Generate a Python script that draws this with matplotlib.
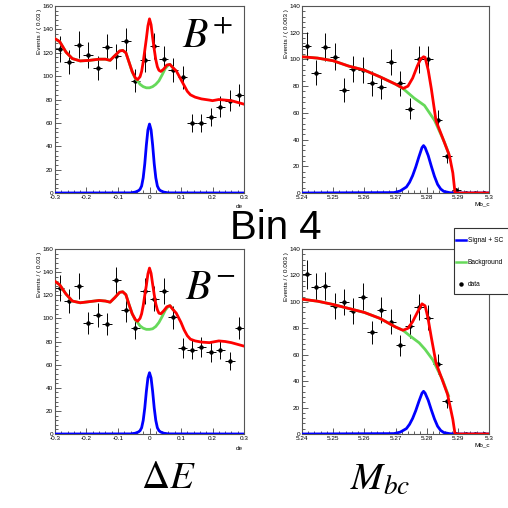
import numpy as np
import matplotlib.pyplot as plt
from matplotlib.patches import Rectangle
from matplotlib.lines import Line2D
from matplotlib.ticker import MultipleLocator

plt.rcParams['font.family'] = ['Liberation Sans', 'DejaVu Sans']
plt.rcParams['mathtext.fontset'] = 'stix'
plt.rcParams['axes.unicode_minus'] = False

# ---------------- data ----------------
de_centers = [-0.285, -0.255, -0.225, -0.195, -0.165, -0.135, -0.105, -0.075, -0.045, -0.015,
              0.015, 0.045, 0.075, 0.105, 0.135, 0.165, 0.195, 0.225, 0.255, 0.285]
mbc_centers = [5.2415, 5.2445, 5.2475, 5.2505, 5.2535, 5.2565, 5.2595, 5.2625, 5.2655, 5.2685,
               5.2715, 5.2745, 5.2775, 5.2805, 5.2835, 5.2865, 5.2895, 5.2925, 5.2955, 5.2985]

de_bplus_counts = [123, 112, 127, 118, 107, 125, 117, 130, 96, 114,
                   126, 115, 105, 99, 60, 60, 65, 74, 79, 84]
de_bminus_counts = [126, 115, 128, 96, 103, 95, 133, 107, 92, 124,
                    117, 124, 101, 74, 73, 75, 71, 73, 63, 92]
mbc_bplus_counts = [110, 90, 109, 102, 77, 93, 92, 82, 79, 98,
                    82, 63, 100, 100, 55, 28, 2, 0, 0, 0]
mbc_bminus_counts = [121, 111, 112, 97, 100, 93, 104, 77, 94, 85,
                     67, 82, 96, 88, 53, 25, 0, 0, 0, 0]

# fit curves
de_bplus_tot_x = [-0.3, -0.285, -0.265, -0.245, -0.22, -0.19, -0.16, -0.14, -0.125, -0.11, -0.095,
                  -0.085, -0.075, -0.065, -0.055, -0.045, -0.038, -0.03, -0.025, -0.02, -0.015,
                  -0.01, -0.005, 0.0, 0.005, 0.01, 0.015, 0.02, 0.025, 0.03, 0.036, 0.045, 0.055,
                  0.065, 0.075, 0.085, 0.1, 0.11, 0.12, 0.13, 0.145, 0.165, 0.19, 0.2, 0.22, 0.24,
                  0.26, 0.28, 0.3]
de_bplus_tot_y = [132, 129.5, 120.5, 115, 113, 113.5, 114.5, 114.5, 113.5, 117.5, 121.5,
                  122, 120, 112, 104, 98.5, 97, 99.5, 104, 112, 122,
                  132, 143, 149, 144, 133, 123, 114, 108, 105, 104, 106, 109.5,
                  110, 107, 104.5, 97, 92, 87, 84, 82, 80.5, 79.5, 79, 80, 79.5,
                  79, 77.5, 76]
de_bplus_bkg_x = [-0.3, -0.285, -0.265, -0.245, -0.22, -0.19, -0.16, -0.14, -0.125, -0.11, -0.095,
                  -0.085, -0.075, -0.065, -0.055, -0.045, -0.038, -0.03, -0.02, -0.01, 0.0, 0.01,
                  0.02, 0.03, 0.04, 0.05, 0.06, 0.065, 0.075]
de_bplus_bkg_y = [132, 129.5, 120.5, 115, 113, 113.5, 114.5, 114.5, 113.5, 117.5, 121.5,
                  122, 120, 112, 103.5, 98, 96, 93, 91, 90, 90, 91,
                  93, 96, 101, 106.5, 109.5, 110, 107]
de_bplus_sig_x = [-0.3, -0.06, -0.045, -0.035, -0.03, -0.025, -0.02, -0.015, -0.01, -0.005, 0.0,
                  0.005, 0.01, 0.015, 0.02, 0.025, 0.03, 0.035, 0.045, 0.06, 0.3]
de_bplus_sig_y = [0, 0.1, 0.8, 2, 3.2, 6, 13, 25, 41, 54, 59,
                  54, 41, 25, 13, 6, 3.2, 2, 0.8, 0.1, 0]

de_bminus_tot_x = de_bplus_tot_x
de_bminus_tot_y = [132, 129, 121, 115, 113.5, 114.5, 115.5, 115, 114, 118, 122.5,
                   123, 120.5, 112, 104, 99, 97.5, 100, 104, 111, 120,
                   128.5, 138.5, 143.5, 139, 129.5, 120.5, 112.5, 107.5, 104.5, 104, 106.5, 110,
                   111, 107.5, 104.5, 96.5, 90, 85, 82, 80.5, 79.5, 79, 79.5, 80.5, 80,
                   79, 77.5, 76]
de_bminus_bkg_x = de_bplus_bkg_x
de_bminus_bkg_y = [132, 129, 121, 115, 113.5, 114.5, 115.5, 115, 114, 118, 122.5,
                   123, 120.5, 112, 104, 98.5, 96.5, 93.5, 91.5, 90.5, 90.5, 91,
                   93, 96.5, 101.5, 107, 110.5, 111, 107.5]
de_bminus_sig_x = de_bplus_sig_x
de_bminus_sig_y = [0, 0.1, 0.7, 1.8, 2.9, 5.4, 11.7, 22.5, 36.8, 48.5, 53,
                   48.5, 36.8, 22.5, 11.7, 5.4, 2.9, 1.8, 0.7, 0.1, 0]

mbc_bplus_tot_x = [5.24, 5.245, 5.25, 5.255, 5.26, 5.265, 5.27, 5.2725, 5.274, 5.2755, 5.277,
                   5.278, 5.279, 5.2795, 5.2805, 5.2815, 5.283, 5.285, 5.2873, 5.2884, 5.2891, 5.30]
mbc_bplus_tot_y = [102, 101, 99, 95, 92, 87, 81.5, 78.3, 80, 86, 95,
                   100, 102, 101.5, 92, 78, 54, 42, 28, 15, 0, 0]
mbc_bplus_bkg_x = [5.24, 5.245, 5.25, 5.255, 5.26, 5.265, 5.27, 5.2725, 5.276, 5.2793, 5.2825,
                   5.2857, 5.287]
mbc_bplus_bkg_y = [102, 101, 99, 95, 92, 87, 81.5, 78, 71, 65.5, 54.5, 38, 30]
mbc_sig_x = [5.24, 5.2695, 5.2715, 5.2735, 5.2745, 5.2755, 5.2765, 5.2775, 5.2785, 5.279, 5.2795,
             5.2805, 5.2815, 5.2825, 5.2835, 5.2845, 5.2855, 5.2875, 5.29, 5.30]
mbc_bplus_sig_y = [0, 0.3, 1.5, 4.5, 8, 13, 19.5, 27, 34, 35.5, 34,
                   28, 20, 12.5, 6.5, 3, 1.2, 0.2, 0, 0]

mbc_bminus_tot_x = [5.24, 5.245, 5.25, 5.255, 5.26, 5.265, 5.27, 5.2724, 5.274, 5.2755, 5.277,
                    5.2785, 5.2795, 5.2804, 5.2815, 5.283, 5.285, 5.2867, 5.2884, 5.2891, 5.30]
mbc_bminus_tot_y = [102, 100.5, 98, 95, 92, 87.5, 81, 78.5, 80, 85, 92,
                    98.5, 97, 88, 73, 53.8, 41, 30, 11, 0, 0]
mbc_bminus_bkg_x = [5.24, 5.245, 5.25, 5.255, 5.26, 5.265, 5.27, 5.2724, 5.2745, 5.2776, 5.2795,
                    5.282, 5.2851, 5.287]
mbc_bminus_bkg_y = [102, 100.5, 98, 95, 92, 87.5, 81, 78.5, 74.5, 69, 64, 56, 41, 29]
mbc_bminus_sig_y = [0, 0.3, 1.4, 4.1, 7.3, 11.8, 17.7, 24.6, 30.9, 32.3, 30.9,
                    25.5, 18.2, 11.4, 5.9, 2.7, 1.1, 0.2, 0, 0]

de_ticks = [-0.3, -0.2, -0.1, 0.0, 0.1, 0.2, 0.3]
de_ticklabels = ['-0.3', '-0.2', '-0.1', '0', '0.1', '0.2', '0.3']
mbc_ticks = [5.24, 5.25, 5.26, 5.27, 5.28, 5.29, 5.30]
mbc_ticklabels = ['5.24', '5.25', '5.26', '5.27', '5.28', '5.29', '5.3']

RED = '#ff0000'
GREEN = '#66d95a'
BLUE = '#0000ff'
W = H = 508.0


def fx(px):
    return px / W


def fy(py):
    return 1 - py / H


fig = plt.figure(figsize=(5.08, 5.08), dpi=100)


def panel(rect, centers, counts, halfbin, tot, bkg, sig, xlim, ylim, ticks, ticklabels, ystep):
    l, t, r, b = rect
    ax = fig.add_axes([fx(l), fy(b), fx(r - l), (b - t) / H])
    counts = np.array(counts, dtype=float)
    err_lo = np.sqrt(counts)
    err_hi = np.where(counts > 0, np.sqrt(counts), 1.15)
    ax.errorbar(centers, counts, xerr=halfbin, yerr=[err_lo, err_hi], fmt='o', ms=2.2,
                color='black', ecolor='black', elinewidth=0.7, capsize=0, zorder=2)
    ax.plot(bkg[0], bkg[1], color=GREEN, lw=2.0, zorder=3)
    ax.plot(sig[0], sig[1], color=BLUE, lw=2.0, zorder=4)
    ax.plot(tot[0], tot[1], color=RED, lw=2.0, zorder=5)
    ax.set_xlim(*xlim)
    ax.set_ylim(*ylim)
    ax.set_xticks(ticks, ticklabels)
    ax.set_yticks(np.arange(ylim[0], ylim[1] + 1, ystep))
    ax.xaxis.set_minor_locator(MultipleLocator((ticks[1] - ticks[0]) / 5))
    ax.yaxis.set_minor_locator(MultipleLocator(ystep / 5))
    ax.tick_params(which='both', direction='in', top=False, right=False,
                   labelsize=4.6, pad=1.5, width=0.6, color='#444444')
    ax.tick_params(which='major', length=4)
    ax.tick_params(which='minor', length=2)
    for s in ax.spines.values():
        s.set_color('#555555')
        s.set_linewidth(0.8)
    return ax


panel((55, 6, 244, 193), de_centers, de_bplus_counts, 0.015,
      (de_bplus_tot_x, de_bplus_tot_y), (de_bplus_bkg_x, de_bplus_bkg_y),
      (de_bplus_sig_x, de_bplus_sig_y), (-0.3, 0.3), (0, 160), de_ticks, de_ticklabels, 20)
panel((302, 6, 489, 193), mbc_centers, mbc_bplus_counts, 0.0015,
      (mbc_bplus_tot_x, mbc_bplus_tot_y), (mbc_bplus_bkg_x, mbc_bplus_bkg_y),
      (mbc_sig_x, mbc_bplus_sig_y), (5.24, 5.30), (0, 140), mbc_ticks, mbc_ticklabels, 20)
panel((55, 249, 244, 434), de_centers, de_bminus_counts, 0.015,
      (de_bminus_tot_x, de_bminus_tot_y), (de_bminus_bkg_x, de_bminus_bkg_y),
      (de_bminus_sig_x, de_bminus_sig_y), (-0.3, 0.3), (0, 160), de_ticks, de_ticklabels, 20)
panel((302, 249, 489, 434), mbc_centers, mbc_bminus_counts, 0.0015,
      (mbc_bminus_tot_x, mbc_bminus_tot_y), (mbc_bminus_bkg_x, mbc_bminus_bkg_y),
      (mbc_sig_x, mbc_bminus_sig_y), (5.24, 5.30), (0, 140), mbc_ticks, mbc_ticklabels, 20)

# axis titles (ROOT style)
for top, bot in [(6, 193), (249, 434)]:
    fig.text(fx(40), fy(top + 3), 'Events / ( 0.03 )', rotation=90, ha='center', va='top', fontsize=4.6)
    fig.text(fx(286.5), fy(top + 3), 'Events / ( 0.003 )', rotation=90, ha='center', va='top', fontsize=4.6)
    fig.text(fx(243), fy(bot + 14), 'de', ha='right', va='center', fontsize=4.6)
    fig.text(fx(490), fy(bot + 11), 'Mb_c', ha='right', va='center', fontsize=4.6)

# big labels
fig.text(fx(207), fy(37), r'$B^{+}$', ha='center', va='center', fontsize=30)
fig.text(fx(210), fy(288), r'$B^{-}$', ha='center', va='center', fontsize=30)
fig.text(fx(276), fy(228), 'Bin 4', ha='center', va='center', fontsize=29)
fig.text(fx(168), fy(478), r'$\Delta E$', ha='center', va='center', fontsize=28)
fig.text(fx(380), fy(480), r'$M_{bc}$', ha='center', va='center', fontsize=28)

# legend box (cut by the right edge)
fig.add_artist(Rectangle((fx(454), fy(294)), 80 / W, 66 / H, transform=fig.transFigure,
                         facecolor='white', edgecolor='#333333', lw=0.8, zorder=10))
fig.add_artist(Line2D([fx(456), fx(466)], [fy(240)] * 2, color=BLUE, lw=1.8,
                      transform=fig.transFigure, zorder=11))
fig.add_artist(Line2D([fx(456), fx(466)], [fy(262)] * 2, color=GREEN, lw=1.8,
                      transform=fig.transFigure, zorder=11))
fig.add_artist(Line2D([fx(461)], [fy(284)], marker='o', ms=2.2, color='black',
                      transform=fig.transFigure, zorder=11))
for yy, lab in [(240, 'Signal + SC'), (262, 'Background'), (284, 'data')]:
    fig.text(fx(468), fy(yy), lab, ha='left', va='center', fontsize=4.8, zorder=12)

fig.savefig('out.png', dpi=100)
